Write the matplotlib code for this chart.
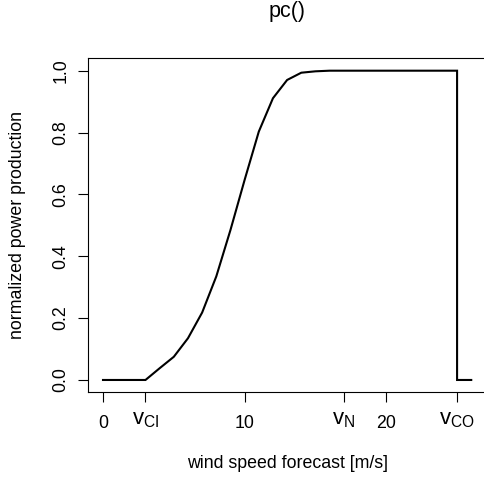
import matplotlib
matplotlib.use("Agg")
import matplotlib.pyplot as plt
from matplotlib.transforms import ScaledTranslation

plt.rcParams['font.family'] = ['Liberation Sans', 'DejaVu Sans']
plt.rcParams['mathtext.fontset'] = 'custom'
plt.rcParams['mathtext.rm'] = 'Liberation Sans'
plt.rcParams['mathtext.it'] = 'Liberation Sans'

wind_speed = [0, 1, 2, 3, 4, 5, 6, 7, 8, 9, 10, 11, 12, 13, 14, 15, 16, 17,
              18, 19, 20, 21, 22, 23, 24, 25, 25, 26]
power = [0.0, 0.0, 0.0, 0.0, 0.038, 0.075, 0.135, 0.218, 0.335, 0.485, 0.647,
         0.803, 0.911, 0.970, 0.9935, 0.998, 1.0, 1.0, 1.0, 1.0, 1.0, 1.0, 1.0,
         1.0, 1.0, 1.0, 0.0, 0.0]

xtick_pos = [0, 3, 10, 17, 20, 25]
xtick_labels = ['0', r'$\mathregular{v_{CI}}$', '10', r'$\mathregular{v_{N}}$', '20',
                r'$\mathregular{v_{CO}}$']
ytick_pos = [0.0, 0.2, 0.4, 0.6, 0.8, 1.0]
ytick_labels = ['0.0', '0.2', '0.4', '0.6', '0.8', '1.0']

fig = plt.figure(figsize=(4.85, 4.82), dpi=100)
ax = fig.add_axes([0.182, 0.186, 0.82, 0.693])
ax.plot(wind_speed, power, color='black', lw=1.5, solid_joinstyle='miter')
ax.set_xlim(-1.04, 27.04)
ax.set_ylim(-0.04, 1.04)

fs = 12.8
ax.set_xticks(xtick_pos)
ax.set_xticklabels(xtick_labels, fontsize=fs)
ax.set_yticks(ytick_pos)
ax.set_yticklabels(ytick_labels, fontsize=fs, rotation=90, va='center')
ax.tick_params(axis='x', length=7.5, width=0.8, color='black', pad=8.5)
ax.tick_params(axis='y', length=7.5, width=0.8, color='black', pad=6)
for s in ax.spines.values():
    s.set_linewidth(0.8)
ax.spines['right'].set_visible(False)

lift = ScaledTranslation(0, 4 / 72, fig.dpi_scale_trans)
for lab, t in zip(ax.get_xticklabels(), xtick_labels):
    if t.startswith('$'):
        lab.set_fontsize(fs * 1.25)
        lab.set_transform(lab.get_transform() + lift)

ax.set_xlabel('wind speed forecast [m/s]', fontsize=fs, labelpad=17)
ax.set_ylabel('normalized power production', fontsize=fs, labelpad=19)
fig.text(0.5 * (0.182 + 1.0), 0.997, 'pc()', ha='center', va='top', fontsize=15.5)

fig.savefig('out.png', dpi=100)
